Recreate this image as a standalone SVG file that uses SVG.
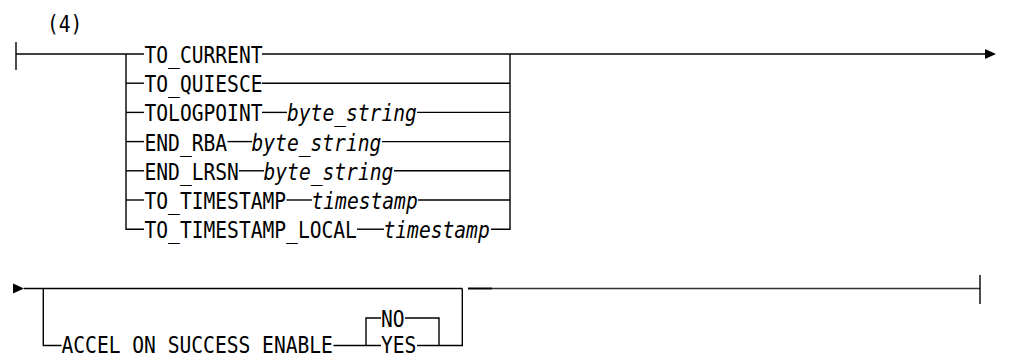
<svg xmlns="http://www.w3.org/2000/svg" width="1024" height="358" viewBox="0 0 1024 358">
<style>
  .t{font-family:"DejaVu Sans Mono","Liberation Mono",monospace;font-size:23px;fill:#000}
  .i{font-style:italic}
  .c line,.c polyline{stroke:#000;stroke-width:1.4;fill:none}
  .ar{fill:#000}
</style>
<defs>
  <path id="arrow" class="ar" d="M0,-5 L11,0 L0,5 Z"/>
</defs>
<rect width="1024" height="358" fill="#fff"/>
<g id="note"><text class="t" x="47" y="32" textLength="35.4" lengthAdjust="spacingAndGlyphs">(4)</text></g>
<g class="c" id="connectors">
  <!-- section 1 -->
  <line x1="16" y1="42" x2="16" y2="70"/>
  <line x1="16" y1="54" x2="144" y2="54"/>
  <line x1="262" y1="54" x2="986" y2="54"/>
  <polyline points="126,54 126,229.2 144,229.2"/>
  <line x1="126" y1="83.2" x2="144" y2="83.2"/>
  <line x1="126" y1="112.4" x2="144" y2="112.4"/>
  <line x1="126" y1="141.6" x2="144" y2="141.6"/>
  <line x1="126" y1="170.8" x2="144" y2="170.8"/>
  <line x1="126" y1="200" x2="144" y2="200"/>
  <polyline points="491,229.2 510,229.2 510,54"/>
  <line x1="262" y1="83.2" x2="510" y2="83.2"/>
  <line x1="262" y1="112.4" x2="287" y2="112.4"/>
  <line x1="417" y1="112.4" x2="510" y2="112.4"/>
  <line x1="227.5" y1="141.6" x2="252" y2="141.6"/>
  <line x1="382" y1="141.6" x2="510" y2="141.6"/>
  <line x1="239" y1="170.8" x2="264" y2="170.8"/>
  <line x1="394" y1="170.8" x2="510" y2="170.8"/>
  <line x1="286.5" y1="200" x2="312" y2="200"/>
  <line x1="418" y1="200" x2="510" y2="200"/>
  <line x1="357" y1="229.2" x2="384" y2="229.2"/>
  <use href="#arrow" x="985" y="54"/>
  <!-- section 2 -->
  <use href="#arrow" x="13" y="288.5"/>
  <line x1="24" y1="288.5" x2="462.3" y2="288.5"/>
  <polyline points="43.3,288.5 43.3,345.5 61.5,345.5"/>
  <line x1="333.5" y1="345.5" x2="381" y2="345.5"/>
  <polyline points="381,318 366,318 366,345.5"/>
  <polyline points="405,318 439,318 439,345.5"/>
  <polyline points="417,345.5 462.3,345.5 462.3,288.5"/>
  <line x1="468" y1="288.5" x2="492" y2="288.5" style="stroke-width:2"/>
  <line x1="492" y1="288.5" x2="980" y2="288.5" style="stroke:#333"/>
  <line x1="980" y1="275" x2="980" y2="304"/>
</g>
<g id="to_current"><text class="t" x="144.5" y="63" textLength="118" lengthAdjust="spacingAndGlyphs">TO_CURRENT</text></g>
<g id="to_quiesce"><text class="t" x="144.5" y="92.2" textLength="118" lengthAdjust="spacingAndGlyphs">TO_QUIESCE</text></g>
<g id="tologpoint">
  <text class="t" x="144.5" y="121.4" textLength="118" lengthAdjust="spacingAndGlyphs">TOLOGPOINT</text>
  <text class="t i" x="287" y="121.4" textLength="129.8" lengthAdjust="spacingAndGlyphs">byte_string</text>
</g>
<g id="end_rba">
  <text class="t" x="144.5" y="150.6" textLength="82.6" lengthAdjust="spacingAndGlyphs">END_RBA</text>
  <text class="t i" x="251.5" y="150.6" textLength="129.8" lengthAdjust="spacingAndGlyphs">byte_string</text>
</g>
<g id="end_lrsn">
  <text class="t" x="144.5" y="179.8" textLength="94.4" lengthAdjust="spacingAndGlyphs">END_LRSN</text>
  <text class="t i" x="263.5" y="179.8" textLength="129.8" lengthAdjust="spacingAndGlyphs">byte_string</text>
</g>
<g id="to_timestamp">
  <text class="t" x="144.5" y="209" textLength="141.6" lengthAdjust="spacingAndGlyphs">TO_TIMESTAMP</text>
  <text class="t i" x="311.5" y="209" textLength="106.2" lengthAdjust="spacingAndGlyphs">timestamp</text>
</g>
<g id="to_timestamp_local">
  <text class="t" x="144.5" y="238.2" textLength="212.4" lengthAdjust="spacingAndGlyphs">TO_TIMESTAMP_LOCAL</text>
  <text class="t i" x="383.5" y="238.2" textLength="106.2" lengthAdjust="spacingAndGlyphs">timestamp</text>
</g>
<g id="accel"><text class="t" x="61.5" y="352.5" textLength="271.4" lengthAdjust="spacingAndGlyphs">ACCEL ON SUCCESS ENABLE</text></g>
<g id="no"><text class="t" x="381" y="327" textLength="23.6" lengthAdjust="spacingAndGlyphs">NO</text></g>
<g id="yes"><text class="t" x="381" y="352.5" textLength="35.4" lengthAdjust="spacingAndGlyphs">YES</text></g>
</svg>
